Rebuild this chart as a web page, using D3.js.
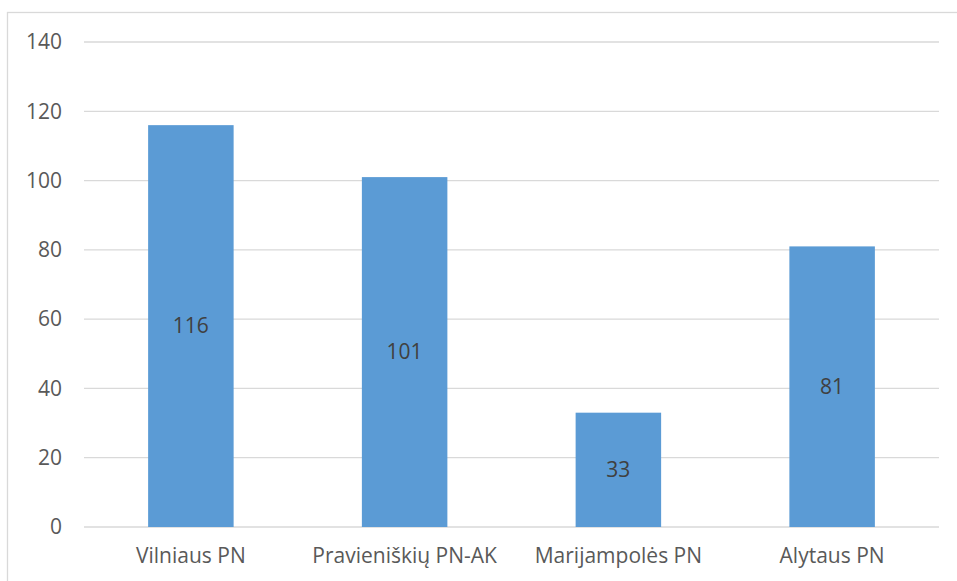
<!DOCTYPE html>
<html lang="lt">
<head>
<meta charset="UTF-8">
<title>Chart</title>
<style>
    body { margin: 0; padding: 0; background: #fff; }
    svg { display: block; font-family: "Open Sans", "Noto Sans", sans-serif; }
    .grid line { stroke: #d9d9d9; stroke-width: 1.3; }
    .tick-label { fill: #595959; font-size: 21px; }
    .val-label { fill: #404040; font-size: 21px; }
</style>
</head>
<body>
<div id="chart"></div>
<script src="https://d3js.org/d3.v7.min.js"></script>
<script>
    const categories = ["Vilniaus PN", "Pravieniškių PN-AK", "Marijampolės PN", "Alytaus PN"];
    const values = [116, 101, 33, 81];
    const yTicks = [0, 20, 40, 60, 80, 100, 120, 140];

    const width = 957, height = 581;
    const plot = { left: 84, right: 939, top: 42, bottom: 527 };

    const svg = d3.select("#chart").append("svg")
        .attr("width", width)
        .attr("height", height);

    // chart frame
    svg.append("rect")
        .attr("x", 7.5).attr("y", 12.5)
        .attr("width", 970).attr("height", 600)
        .attr("fill", "none")
        .attr("stroke", "#d9d9d9")
        .attr("stroke-width", 1.3);

    const x = d3.scaleBand()
        .domain(categories)
        .range([plot.left, plot.right])
        .paddingInner(0.6)
        .paddingOuter(0.3);

    const y = d3.scaleLinear()
        .domain([0, 140])
        .range([plot.bottom, plot.top]);

    // gridlines
    svg.append("g").attr("class", "grid")
        .selectAll("line")
        .data(yTicks)
        .enter().append("line")
        .attr("x1", plot.left).attr("x2", plot.right)
        .attr("y1", d => y(d)).attr("y2", d => y(d));

    // y labels
    svg.append("g")
        .selectAll("text")
        .data(yTicks)
        .enter().append("text")
        .attr("class", "tick-label")
        .attr("x", 62)
        .attr("y", d => y(d))
        .attr("dy", "0.35em")
        .attr("text-anchor", "end")
        .text(d => d);

    // bars
    svg.append("g")
        .selectAll("rect")
        .data(values)
        .enter().append("rect")
        .attr("x", (d, i) => x(categories[i]))
        .attr("y", d => y(d))
        .attr("width", x.bandwidth())
        .attr("height", d => y(0) - y(d))
        .attr("fill", "#5b9bd5");

    // value labels
    svg.append("g")
        .selectAll("text")
        .data(values)
        .enter().append("text")
        .attr("class", "val-label")
        .attr("x", (d, i) => x(categories[i]) + x.bandwidth() / 2)
        .attr("y", d => (y(d) + y(0)) / 2)
        .attr("dy", "0.35em")
        .attr("text-anchor", "middle")
        .text(d => d);

    // category labels
    svg.append("g")
        .selectAll("text")
        .data(categories)
        .enter().append("text")
        .attr("class", "tick-label")
        .attr("x", d => x(d) + x.bandwidth() / 2)
        .attr("y", 556)
        .attr("dy", "0.35em")
        .attr("text-anchor", "middle")
        .text(d => d);
</script>
</body>
</html>
